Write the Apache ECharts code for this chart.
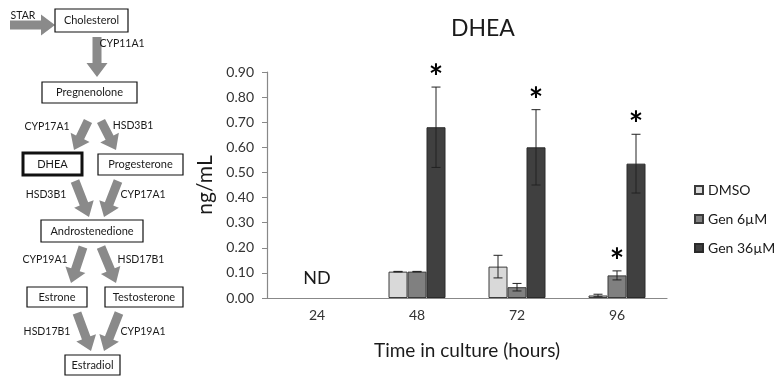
<!DOCTYPE html>
<html>
<head>
<meta charset="utf-8">
<script src="https://cdn.jsdelivr.net/npm/echarts@6/dist/echarts.min.js"></script>
<style>
  html, body { margin: 0; padding: 0; background: #fff; }
  #main { width: 775px; height: 378px; }
</style>
</head>
<body>
<div id="main"></div>
<script>
// chart data
var hours = ['24', '48', '72', '96'];
var dmso = [null, 0.105, 0.125, 0.01];
var gen6 = [null, 0.105, 0.043, 0.09];
var gen36 = [null, 0.68, 0.60, 0.535];
var errDmso = [null, 0.001, 0.045, 0.005];
var errGen6 = [null, 0.001, 0.015, 0.018];
var errGen36 = [null, 0.16, 0.15, 0.117];
var starGen6 = [0, 0, 0, 1];
var starGen36 = [0, 1, 1, 1];
var ndLabels = [[0, 0.08, 'ND']];
var seriesNames = ['DMSO', 'Gen 6µM', 'Gen 36µM'];

// pathway text
var boxNames = ['Cholesterol', 'Pregnenolone', 'DHEA', 'Progesterone', 'Androstenedione', 'Estrone', 'Testosterone', 'Estradiol'];
var enzymeNames = ['CYP11A1', 'CYP17A1', 'HSD3B1', 'HSD3B1', 'CYP17A1', 'CYP19A1', 'HSD17B1', 'HSD17B1', 'CYP19A1'];

var FONT = 'Lato';
var BAR_W = 19;

var myChart = echarts.init(document.querySelector('#main'));

// diagram layout (pixels)
var boxPos = [
    [55, 9, 73, 23], [42, 82, 95, 21], [23, 153, 59, 22], [98, 154, 85, 21],
    [41, 220, 102, 22], [27, 287, 60, 20], [105, 287, 78, 20], [65, 355, 55, 20]
];
var enzPos = [
    [122, 44], [47, 127], [133, 126], [46, 195], [143, 195],
    [45, 260], [141, 260], [47, 332], [143, 332]
];
var arrowPos = [
    [97, 37, 97, 77],
    [88, 121, 74, 150], [101, 121, 116, 150],
    [75, 181, 89, 217], [118, 181, 104, 217],
    [83, 247, 71, 283], [101, 247, 116, 283],
    [77, 313, 91, 351], [119, 313, 104, 351],
    [10, 25, 55, 25]
];

function arrowShape(x1, y1, x2, y2) {
    var dx = x2 - x1, dy = y2 - y1;
    var len = Math.sqrt(dx * dx + dy * dy);
    var ux = dx / len, uy = dy / len;
    var nx = -uy, ny = ux;
    var sw = 4.5, hw = 10.5, hl = 14;
    var bx = x2 - ux * hl, by = y2 - uy * hl;
    return [
        [x1 + nx * sw, y1 + ny * sw],
        [bx + nx * sw, by + ny * sw],
        [bx + nx * hw, by + ny * hw],
        [x2, y2],
        [bx - nx * hw, by - ny * hw],
        [bx - nx * sw, by - ny * sw],
        [x1 - nx * sw, y1 - ny * sw]
    ];
}

var graphics = [];
arrowPos.forEach(function (a) {
    graphics.push({
        type: 'polygon', shape: { points: arrowShape(a[0], a[1], a[2], a[3]) },
        style: { fill: '#8a8a8a' }
    });
});
boxNames.forEach(function (name, i) {
    var p = boxPos[i];
    var thick = name === 'DHEA';
    graphics.push({
        type: 'rect', shape: { x: p[0], y: p[1], width: p[2], height: p[3] },
        style: { fill: '#fff', stroke: '#111', lineWidth: thick ? 3 : 1.2 }
    });
    graphics.push({
        type: 'text', x: p[0] + p[2] / 2, y: p[1] + p[3] / 2,
        style: { text: name, fill: '#1a1a1a', font: '11px ' + FONT, textAlign: 'center', textVerticalAlign: 'middle' }
    });
});
enzymeNames.forEach(function (name, i) {
    graphics.push({
        type: 'text', x: enzPos[i][0], y: enzPos[i][1],
        style: { text: name, fill: '#1a1a1a', font: '10.5px ' + FONT, textAlign: 'center', textVerticalAlign: 'middle' }
    });
});
graphics.push({
    type: 'text', x: 23, y: 16,
    style: { text: 'STAR', fill: '#1a1a1a', font: '10.5px ' + FONT, textAlign: 'center', textVerticalAlign: 'middle' }
});

// error bars + stars
var errItems = [];
[[dmso, errDmso, null], [gen6, errGen6, starGen6], [gen36, errGen36, starGen36]].forEach(function (s, si) {
    hours.forEach(function (h, i) {
        if (s[0][i] == null) return;
        errItems.push([i, s[0][i], s[1][i], si, s[2] ? s[2][i] : 0]);
    });
});

function renderErr(params, api) {
    var i = api.value(0), v = api.value(1), e = api.value(2), si = api.value(3), star = api.value(4);
    var off = (si - 1) * BAR_W;
    var top = api.coord([i, v + e]);
    var bot = api.coord([i, v - e]);
    var x = top[0] + off;
    var cap = 4.5;
    var st = { stroke: '#222', lineWidth: 1 };
    var children = [
        { type: 'line', shape: { x1: x, y1: top[1], x2: x, y2: bot[1] }, style: st },
        { type: 'line', shape: { x1: x - cap, y1: top[1], x2: x + cap, y2: top[1] }, style: st },
        { type: 'line', shape: { x1: x - cap, y1: bot[1], x2: x + cap, y2: bot[1] }, style: st }
    ];
    if (star) {
        children.push({
            type: 'text', x: x, y: top[1] + 8,
            style: { text: '*', fill: '#000', font: 'bold 34px ' + FONT, textAlign: 'center', textVerticalAlign: 'bottom' }
        });
    }
    return { type: 'group', children: children };
}

function renderNd(params, api) {
    var p = api.coord([api.value(0), api.value(1)]);
    return {
        type: 'text', x: p[0], y: p[1],
        style: { text: ndLabels[params.dataIndex][2], fill: '#1a1a1a', font: '18px ' + FONT, textAlign: 'center', textVerticalAlign: 'middle' }
    };
}

var barBase = { type: 'bar', barWidth: BAR_W, barGap: '0%' };

option = {
    animation: false,
    textStyle: { fontFamily: FONT },
    title: {
        text: 'DHEA', left: 446, top: 12,
        textStyle: { fontFamily: FONT, fontSize: 23, fontWeight: 'normal', color: '#1a1a1a' }
    },
    legend: {
        data: seriesNames, orient: 'vertical', left: 689, top: 178,
        itemWidth: 8, itemHeight: 8, itemGap: 15, icon: 'rect',
        textStyle: { fontFamily: FONT, fontSize: 14, color: '#1a1a1a' }
    },
    grid: { left: 267, right: 108, top: 72, bottom: 80 },
    xAxis: {
        type: 'category', data: hours,
        name: 'Time in culture (hours)', nameLocation: 'middle', nameGap: 43,
        nameTextStyle: { fontFamily: FONT, fontSize: 19, color: '#1a1a1a' },
        axisLine: { lineStyle: { color: '#888', width: 1.2 } },
        axisTick: { show: false },
        axisLabel: { margin: 10, fontFamily: FONT, fontSize: 14, color: '#333' }
    },
    yAxis: {
        type: 'value', min: 0, max: 0.9, interval: 0.1,
        name: 'ng/mL', nameLocation: 'middle', nameGap: 45,
        nameTextStyle: { fontFamily: FONT, fontSize: 21, color: '#1a1a1a' },
        axisLine: { show: true, lineStyle: { color: '#888', width: 1.2 } },
        axisTick: { show: true, length: 5, lineStyle: { color: '#888' } },
        axisLabel: { margin: 13, fontFamily: FONT, fontSize: 14, color: '#333',
            formatter: function (v) { return v.toFixed(2); } },
        splitLine: { show: false }
    },
    series: [
        Object.assign({}, barBase, {
            name: seriesNames[0], data: dmso,
            itemStyle: { color: '#d9d9d9', borderColor: '#3a3a3a', borderWidth: 1 }
        }),
        Object.assign({}, barBase, {
            name: seriesNames[1], data: gen6,
            itemStyle: { color: '#808080', borderColor: '#3a3a3a', borderWidth: 1 }
        }),
        Object.assign({}, barBase, {
            name: seriesNames[2], data: gen36,
            itemStyle: { color: '#404040', borderColor: '#2a2a2a', borderWidth: 1 }
        }),
        {
            type: 'custom', name: 'err', data: errItems, renderItem: renderErr, z: 5,
            encode: { x: 0, y: 1 }, silent: true
        },
        {
            type: 'custom', name: 'nd', data: ndLabels.map(function (d) { return [d[0], d[1]]; }),
            renderItem: renderNd, encode: { x: 0, y: 1 }, silent: true
        }
    ],
    graphic: graphics
};

myChart.setOption(option);
</script>
</body>
</html>
